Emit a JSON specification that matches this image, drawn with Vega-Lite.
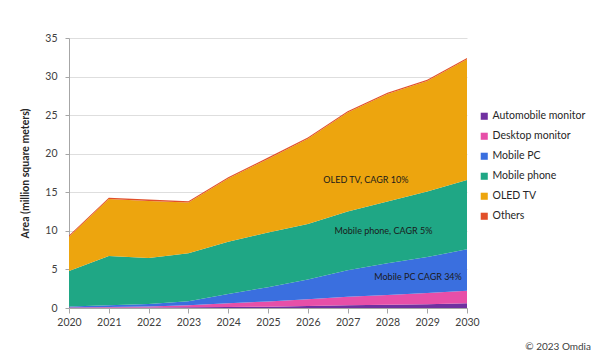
{
  "$schema": "https://vega.github.io/schema/vega-lite/v6.json",
  "autosize": {"type": "none"},
  "width": 398,
  "height": 270,
  "padding": {"left": 69, "top": 38, "right": 142, "bottom": 45},
  "background": "white",
  "config": {
    "font": "Lato",
    "view": {"stroke": null},
    "axis": {"labelFont": "Lato", "titleFont": "Lato", "labelColor": "#404040", "titleColor": "#262626"},
    "axisX": {"title": null, "values": [2020,2021,2022,2023,2024,2025,2026,2027,2028,2029,2030], "format": "d", "grid": false, "domainColor": "#a6a6a6", "tickColor": "#a6a6a6", "tickSize": 5, "labelFontSize": 10.5, "labelPadding": 4, "labelFlush": false, "labelOverlap": false},
    "axisY": {"values": [0,5,10,15,20,25,30,35], "grid": true, "gridColor": "#dedede", "domainColor": "#a6a6a6", "tickColor": "#a6a6a6", "tickSize": 4, "labelFontSize": 10.5, "labelPadding": 8, "labelOverlap": false, "titleFontSize": 10.5, "titleFontWeight": "bold", "titlePadding": 14}
  },
  "title": {"text": "© 2023 Omdia", "orient": "bottom", "anchor": "end", "frame": "group", "dx": 124, "offset": 14, "fontSize": 10, "fontWeight": "normal", "color": "#404040", "font": "Lato"},
  "datasets": {
    "area": [
      {"year": 2020, "segment": "Automobile monitor", "value": 0.05},
      {"year": 2021, "segment": "Automobile monitor", "value": 0.05},
      {"year": 2022, "segment": "Automobile monitor", "value": 0.07},
      {"year": 2023, "segment": "Automobile monitor", "value": 0.1},
      {"year": 2024, "segment": "Automobile monitor", "value": 0.13},
      {"year": 2025, "segment": "Automobile monitor", "value": 0.17},
      {"year": 2026, "segment": "Automobile monitor", "value": 0.25},
      {"year": 2027, "segment": "Automobile monitor", "value": 0.35},
      {"year": 2028, "segment": "Automobile monitor", "value": 0.42},
      {"year": 2029, "segment": "Automobile monitor", "value": 0.5},
      {"year": 2030, "segment": "Automobile monitor", "value": 0.6},
      {"year": 2020, "segment": "Desktop monitor", "value": 0.05},
      {"year": 2021, "segment": "Desktop monitor", "value": 0.07},
      {"year": 2022, "segment": "Desktop monitor", "value": 0.11},
      {"year": 2023, "segment": "Desktop monitor", "value": 0.25},
      {"year": 2024, "segment": "Desktop monitor", "value": 0.47},
      {"year": 2025, "segment": "Desktop monitor", "value": 0.68},
      {"year": 2026, "segment": "Desktop monitor", "value": 0.9},
      {"year": 2027, "segment": "Desktop monitor", "value": 1.12},
      {"year": 2028, "segment": "Desktop monitor", "value": 1.28},
      {"year": 2029, "segment": "Desktop monitor", "value": 1.45},
      {"year": 2030, "segment": "Desktop monitor", "value": 1.65},
      {"year": 2020, "segment": "Mobile PC", "value": 0.1},
      {"year": 2021, "segment": "Mobile PC", "value": 0.23},
      {"year": 2022, "segment": "Mobile PC", "value": 0.34},
      {"year": 2023, "segment": "Mobile PC", "value": 0.51},
      {"year": 2024, "segment": "Mobile PC", "value": 1.2},
      {"year": 2025, "segment": "Mobile PC", "value": 1.85},
      {"year": 2026, "segment": "Mobile PC", "value": 2.55},
      {"year": 2027, "segment": "Mobile PC", "value": 3.43},
      {"year": 2028, "segment": "Mobile PC", "value": 4.1},
      {"year": 2029, "segment": "Mobile PC", "value": 4.65},
      {"year": 2030, "segment": "Mobile PC", "value": 5.35},
      {"year": 2020, "segment": "Mobile phone", "value": 4.6},
      {"year": 2021, "segment": "Mobile phone", "value": 6.39},
      {"year": 2022, "segment": "Mobile phone", "value": 5.96},
      {"year": 2023, "segment": "Mobile phone", "value": 6.23},
      {"year": 2024, "segment": "Mobile phone", "value": 6.8},
      {"year": 2025, "segment": "Mobile phone", "value": 7.1},
      {"year": 2026, "segment": "Mobile phone", "value": 7.2},
      {"year": 2027, "segment": "Mobile phone", "value": 7.6},
      {"year": 2028, "segment": "Mobile phone", "value": 8.0},
      {"year": 2029, "segment": "Mobile phone", "value": 8.5},
      {"year": 2030, "segment": "Mobile phone", "value": 9.0},
      {"year": 2020, "segment": "OLED TV", "value": 4.42},
      {"year": 2021, "segment": "OLED TV", "value": 7.39},
      {"year": 2022, "segment": "OLED TV", "value": 7.4},
      {"year": 2023, "segment": "OLED TV", "value": 6.59},
      {"year": 2024, "segment": "OLED TV", "value": 8.18},
      {"year": 2025, "segment": "OLED TV", "value": 9.53},
      {"year": 2026, "segment": "OLED TV", "value": 11.03},
      {"year": 2027, "segment": "OLED TV", "value": 12.83},
      {"year": 2028, "segment": "OLED TV", "value": 13.93},
      {"year": 2029, "segment": "OLED TV", "value": 14.33},
      {"year": 2030, "segment": "OLED TV", "value": 15.63},
      {"year": 2020, "segment": "Others", "value": 0.17},
      {"year": 2021, "segment": "Others", "value": 0.17},
      {"year": 2022, "segment": "Others", "value": 0.17},
      {"year": 2023, "segment": "Others", "value": 0.17},
      {"year": 2024, "segment": "Others", "value": 0.17},
      {"year": 2025, "segment": "Others", "value": 0.17},
      {"year": 2026, "segment": "Others", "value": 0.17},
      {"year": 2027, "segment": "Others", "value": 0.17},
      {"year": 2028, "segment": "Others", "value": 0.17},
      {"year": 2029, "segment": "Others", "value": 0.17},
      {"year": 2030, "segment": "Others", "value": 0.17}
    ],
    "labels": [
      {"x": 2027.46, "y": 16.6, "label": "OLED TV, CAGR 10%"},
      {"x": 2027.9, "y": 10.0, "label": "Mobile phone, CAGR 5%"},
      {"x": 2028.77, "y": 4.0, "label": "Mobile PC CAGR 34%"}
    ]
  },
  "layer": [
    {
      "data": {"name": "area"},
      "transform": [
        {"calculate": "indexof(['Automobile monitor','Desktop monitor','Mobile PC','Mobile phone','OLED TV','Others'], datum.segment)", "as": "ord"}
      ],
      "mark": {"type": "area", "opacity": 1},
      "encoding": {
        "x": {
          "field": "year", "type": "quantitative",
          "scale": {"domain": [2020, 2030], "nice": false, "zero": false},
          "axis": {"title": null}
        },
        "y": {
          "field": "value", "type": "quantitative", "stack": "zero",
          "scale": {"domain": [0, 35], "nice": false},
          "axis": {"title": "Area (million square meters)"}
        },
        "color": {
          "field": "segment", "type": "nominal",
          "scale": {
            "domain": ["Automobile monitor", "Desktop monitor", "Mobile PC", "Mobile phone", "OLED TV", "Others"],
            "range": ["#7030a0", "#e74fa8", "#3a6fdf", "#1fa785", "#eda50e", "#e1502a"]
          },
          "legend": {
            "title": null, "orient": "none", "legendX": 410, "legendY": 73,
            "symbolType": "square", "symbolSize": 50, "symbolStrokeWidth": 0,
            "labelFontSize": 10.5, "labelColor": "#262626", "labelFont": "Lato",
            "rowPadding": 9, "labelOffset": 3
          }
        },
        "order": {"field": "ord", "type": "quantitative"}
      }
    },
    {
      "data": {"name": "labels"},
      "mark": {"type": "text", "fontSize": 9, "color": "#1a1a1a", "font": "Lato", "align": "center", "baseline": "middle"},
      "encoding": {
        "x": {"field": "x", "type": "quantitative", "axis": {"title": null}},
        "y": {"field": "y", "type": "quantitative", "axis": {"title": "Area (million square meters)"}},
        "text": {"field": "label"}
      }
    }
  ]
}
